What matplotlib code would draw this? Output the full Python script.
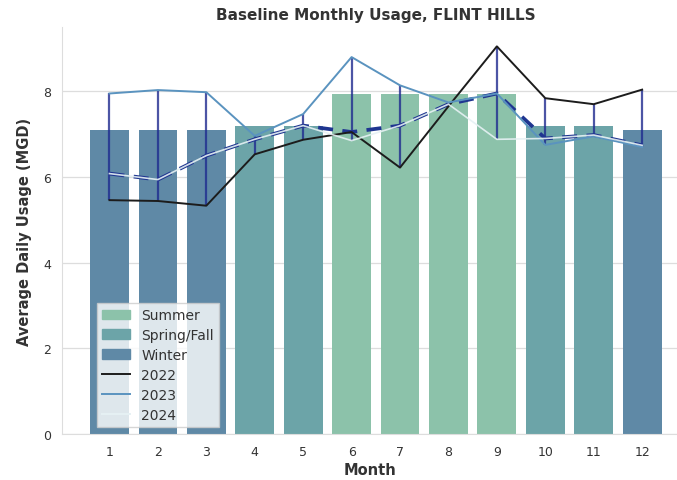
import numpy as np
import matplotlib
matplotlib.use("Agg")
import matplotlib.pyplot as plt
from matplotlib.patches import Patch
from matplotlib.lines import Line2D

# data
months = [1, 2, 3, 4, 5, 6, 7, 8, 9, 10, 11, 12]
season = ["Winter", "Winter", "Winter", "Spring/Fall", "Spring/Fall", "Summer",
          "Summer", "Summer", "Summer", "Spring/Fall", "Spring/Fall", "Winter"]
season_baseline = {"Summer": 7.93, "Spring/Fall": 7.2, "Winter": 7.1}
usage_2022 = [5.46, 5.44, 5.33, 6.53, 6.87, 7.05, 6.22, 7.65, 9.05, 7.84, 7.70, 8.04]
usage_2023 = [7.95, 8.03, 7.98, 6.96, 7.47, 8.80, 8.14, 7.74, 7.95, 6.75, 6.95, 6.70]
usage_2024 = [6.08, 5.94, 6.50, 6.88, 7.20, 6.85, 7.20, 7.70, 6.88, 6.90, 6.98, 6.74]

season_colors = {"Summer": "#8cc2aa", "Spring/Fall": "#6ca4a8", "Winter": "#5f89a6"}
year_colors = {"2022": "#1c1c1c", "2023": "#5a93bf", "2024": "#e6f1f4"}
text_col = "#333333"

fig = plt.figure(figsize=(6.77, 4.81), dpi=100)
ax = fig.add_axes([0.0916, 0.0956, 0.9084, 0.846])

# seasonal baseline bars
bar_vals = [season_baseline[s] for s in season]
ax.bar(months, bar_vals, width=0.8, color=[season_colors[s] for s in season],
       zorder=2)

# spread across years and median baseline
years = np.array([usage_2022, usage_2023, usage_2024])
lo = years.min(axis=0)
hi = years.max(axis=0)
med = np.median(years, axis=0)
ax.vlines(months, lo, hi, color="#1f2b8f", lw=1.6, alpha=0.8, zorder=3)
ax.plot(months, med, color="#1f3590", lw=2.7, ls=(0, (4, 2.5)), zorder=3)

ax.plot(months, usage_2022, color=year_colors["2022"], lw=1.4, zorder=4)
ax.plot(months, usage_2023, color=year_colors["2023"], lw=1.4, zorder=4)
ax.plot(months, usage_2024, color=year_colors["2024"], lw=1.2, alpha=0.9, zorder=4)

ax.set_xlim(0.02, 12.72)
ax.set_ylim(0, 9.5)
ax.set_xticks(months)
ax.set_xticklabels([str(m) for m in months])
ax.set_yticks([0, 2, 4, 6, 8])
ax.grid(axis="y", color="#dddddd", lw=0.9, zorder=0)
ax.set_axisbelow(True)
for s in ["top", "right"]:
    ax.spines[s].set_visible(False)
for s in ["left", "bottom"]:
    ax.spines[s].set_color("#dddddd")
ax.tick_params(length=0, labelsize=9, colors=text_col, pad=8)

ax.set_title("Baseline Monthly Usage, FLINT HILLS", fontsize=11, fontweight="bold",
             color=text_col, pad=6, x=0.51)
ax.set_xlabel("Month", fontsize=10.5, fontweight="bold", color=text_col, labelpad=3)
ax.set_ylabel("Average Daily Usage (MGD)", fontsize=10.5, fontweight="bold",
              color=text_col, labelpad=8)

handles = [Patch(color=season_colors["Summer"], label="Summer"),
           Patch(color=season_colors["Spring/Fall"], label="Spring/Fall"),
           Patch(color=season_colors["Winter"], label="Winter"),
           Line2D([0], [0], color=year_colors["2022"], lw=1.4, label="2022"),
           Line2D([0], [0], color=year_colors["2023"], lw=1.4, label="2023"),
           Line2D([0], [0], color=year_colors["2024"], lw=1.4, label="2024")]
leg = ax.legend(handles=handles, loc="lower left", bbox_to_anchor=(0.045, 0.0),
                fontsize=10, frameon=True, framealpha=0.8, edgecolor="#cccccc",
                fancybox=False, labelspacing=0.42, handlelength=2.0)
for t in leg.get_texts():
    t.set_color(text_col)

fig.savefig("out.png", dpi=100)
